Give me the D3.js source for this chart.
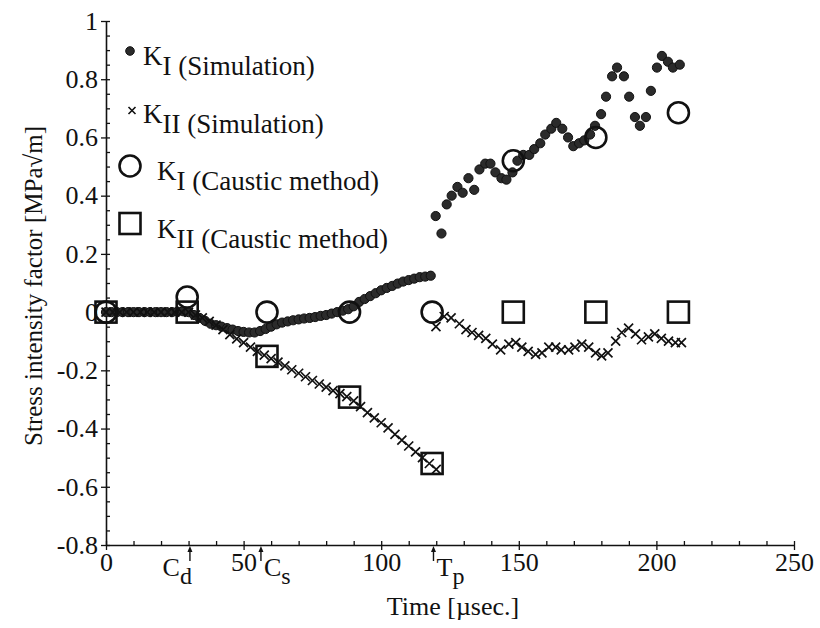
<!DOCTYPE html>
<html lang="en">
<head>
    <meta charset="UTF-8">
    <title>Stress intensity factor</title>
    <style>
        body { margin: 0; background: #fff; }
        text { font-family: "Liberation Serif", "Times New Roman", serif; fill: #111; }
    </style>
</head>
<body>
<script src="https://cdn.jsdelivr.net/npm/d3@7"></script>
<script>
    var width = 820;
    var height = 628;

    // K_I simulation (dense part before crack start, then scattered after)
    var kiSimTime = [0,2,4,6,8,10,12,14,16,18,20,22,24,26,28,30,32,34,36,38,40,42,44,46,48,50,52,54,56,58,
        60,62,64,66,68,70,72,74,76,78,80,82,84,86,88,90,92,94,96,98,100,102,104,106,108,110,112,114,116,118,
        119.8,121.9,123.8,125.6,127.7,129.6,131.7,133.8,135.7,137.8,139.7,141.5,143.7,145.5,147.7,149.5,151.6,
        153.8,155.6,157.8,159.6,161.8,163.6,165.8,167.9,169.8,171.9,173.8,175.9,177.7,179.9,181.7,183.9,185.7,
        188.2,190.1,192.2,194,196.2,198,200.2,202,204.2,206,208.5];
    var kiSimValue = [0,0,0,0,0,0,0,0,0,0,0,0,0,0.002,0.003,0,-0.01,-0.02,-0.03,-0.04,-0.045,-0.05,-0.055,-0.06,-0.065,-0.068,-0.07,-0.07,-0.065,-0.058,
        -0.05,-0.042,-0.036,-0.032,-0.028,-0.025,-0.022,-0.02,-0.017,-0.013,-0.01,-0.005,0,0.005,0.01,0.02,0.035,0.045,0.055,0.065,0.075,0.083,0.09,0.098,0.105,0.11,0.115,0.12,0.122,0.125,
        0.33,0.27,0.37,0.40,0.43,0.41,0.46,0.42,0.49,0.51,0.51,0.48,0.46,0.455,0.48,0.52,0.54,
        0.54,0.56,0.58,0.61,0.63,0.65,0.63,0.60,0.57,0.58,0.59,0.61,0.64,0.68,0.74,0.81,0.84,
        0.81,0.74,0.67,0.64,0.67,0.76,0.84,0.88,0.86,0.84,0.85];

    // K_II simulation
    var kiiSimTime = [0,2.5,5,7.5,10,12.5,15,17.5,20,22.5,25,27.5,30,32.5,35,37.5,40,42.5,45,47.5,50,52.5,55,57.5,
        60,62.5,65,67.5,70,72.5,75,77.5,80,82.5,85,87.5,90,92.5,95,97.5,100,102.5,105,107.5,110,112.5,115,117.5,120,
        119.9,122.9,125.4,128.4,130.8,133,135.4,138,140.4,143.4,146.4,148.9,151.1,153.4,156.1,158.4,160.9,163.4,165.4,
        168.1,170.4,172.9,175.4,177.9,180.1,182.4,185.2,187.4,189.9,192.4,194.6,197.1,199.4,201.8,204.4,206.9,209.1];
    var kiiSimValue = [0,0,0,0,0,0,0,0,0,0,0,0,0,-0.01,-0.02,-0.032,-0.045,-0.06,-0.077,-0.092,-0.105,-0.12,-0.135,-0.148,
        -0.16,-0.172,-0.185,-0.198,-0.21,-0.222,-0.235,-0.247,-0.258,-0.27,-0.28,-0.29,-0.305,-0.325,-0.345,-0.363,-0.38,-0.398,-0.42,-0.44,-0.46,-0.48,-0.5,-0.52,-0.54,
        -0.05,-0.015,-0.02,-0.04,-0.06,-0.07,-0.08,-0.09,-0.11,-0.13,-0.11,-0.105,-0.12,-0.135,-0.145,-0.14,-0.12,-0.12,-0.13,
        -0.13,-0.12,-0.11,-0.12,-0.14,-0.15,-0.14,-0.1,-0.07,-0.055,-0.075,-0.095,-0.085,-0.075,-0.09,-0.1,-0.105,-0.105];

    // caustic method measurements
    var causticTime = [0,29.5,58.5,88.5,118.5,148,178,208];
    var kiCaustic = [0,0.052,0,0,0,0.52,0.6,0.685];
    var kiiCaustic = [0,0,-0.152,-0.292,-0.52,0,0,0];

    // axis ticks
    var xTicks = [0,50,100,150,200,250];
    var yTicks = [-0.8,-0.6,-0.4,-0.2,0,0.2,0.4,0.6,0.8,1];

    // wave arrival markers under the time axis
    var eventTime = [30.5,56.3,119];
    var eventLabel = ["C","C","T"];
    var eventSub = ["d","s","p"];

    var legendLabel = ["K","K","K","K"];
    var legendSub = ["I","II","I","II"];
    var legendText = ["(Simulation)","(Simulation)","(Caustic method)","(Caustic method)"];

    var svg = d3.select('body')
            .append('svg')
            .attr('width', width)
            .attr('height', height);

    var x = d3.scaleLinear().domain([0,250]).range([106,794]);
    var y = d3.scaleLinear().domain([-0.8,1]).range([545,21]);

    // minor ticks (inside)
    svg.append('g')
            .attr('transform','translate(0,545)')
            .call(d3.axisBottom(x).tickValues(d3.range(0,251,10)).tickSize(-4).tickFormat(''))
            .call(function(g){ g.select('.domain').remove(); });
    svg.append('g')
            .attr('transform','translate(106,0)')
            .call(d3.axisLeft(y).tickValues(d3.range(-16,21).map(function(d){ return d/20; })).tickSize(-4).tickFormat(''))
            .call(function(g){ g.select('.domain').remove(); });

    var xAxis = svg.append('g')
            .attr('transform','translate(0,545)')
            .call(d3.axisBottom(x).tickValues(xTicks).tickSize(5).tickSizeOuter(0).tickPadding(3).tickFormat(function(d){ return String(d); }));
    var yAxis = svg.append('g')
            .attr('transform','translate(106,0)')
            .call(d3.axisLeft(y).tickValues(yTicks).tickSize(5).tickSizeOuter(0).tickPadding(3).tickFormat(function(d){ return String(d); }));

    svg.selectAll('.tick line').attr('stroke','#111').attr('stroke-width',1.3);
    svg.selectAll('.domain').attr('stroke','#111').attr('stroke-width',1.6);
    xAxis.selectAll('text').attr('font-size','26px').attr('fill','#111');
    yAxis.selectAll('text').attr('font-size','26px').attr('fill','#111');

    // axis titles
    svg.append('text')
            .attr('x',453).attr('y',615)
            .attr('text-anchor','middle')
            .attr('font-size','26px')
            .text('Time [\u00b5sec.]');
    svg.append('text')
            .attr('transform','translate(42,286) rotate(-90)')
            .attr('text-anchor','middle')
            .attr('font-size','25px')
            .text('Stress intensity factor [MPa\u221am]');

    // arrival arrows
    eventTime.forEach(function(t,i){
        var ex = x(t);
        svg.append('line')
                .attr('x1',ex).attr('x2',ex)
                .attr('y1',550).attr('y2',561)
                .attr('stroke','#111').attr('stroke-width',1.4);
        svg.append('path')
                .attr('d','M'+(ex-2.5)+',552L'+ex+',546L'+(ex+2.5)+',552Z')
                .attr('fill','#111');
        var lab = svg.append('text')
                .attr('x', i===0 ? ex+2 : ex+3)
                .attr('y',576)
                .attr('text-anchor', i===0 ? 'end' : 'start')
                .attr('font-size','26px');
        lab.append('tspan').text(eventLabel[i]);
        lab.append('tspan').attr('dy',8).attr('font-size','24px').text(eventSub[i]);
    });

    // K_I simulation dots
    svg.append('g').selectAll('circle')
            .data(kiSimTime)
            .enter()
            .append('circle')
            .attr('cx',function(d){ return x(d); })
            .attr('cy',function(d,i){ return y(kiSimValue[i]); })
            .attr('r',4.6)
            .attr('fill','#2b2b2b')
            .attr('stroke','#111')
            .attr('stroke-width',1);

    // K_II simulation crosses
    var cross = function(cx,cy,s){
        return 'M'+(cx-s)+','+(cy-s)+'L'+(cx+s)+','+(cy+s)+'M'+(cx-s)+','+(cy+s)+'L'+(cx+s)+','+(cy-s);
    };
    svg.append('g').selectAll('path')
            .data(kiiSimTime)
            .enter()
            .append('path')
            .attr('d',function(d,i){ return cross(x(d),y(kiiSimValue[i]),4.5); })
            .attr('stroke','#111')
            .attr('stroke-width',1.7)
            .attr('fill','none');

    // caustic circles
    svg.append('g').selectAll('circle')
            .data(causticTime)
            .enter()
            .append('circle')
            .attr('cx',function(d){ return x(d); })
            .attr('cy',function(d,i){ return y(kiCaustic[i]); })
            .attr('r',10.5)
            .attr('fill','none')
            .attr('stroke','#111')
            .attr('stroke-width',2.6);

    // caustic squares
    svg.append('g').selectAll('rect')
            .data(causticTime)
            .enter()
            .append('rect')
            .attr('x',function(d){ return x(d)-10.5; })
            .attr('y',function(d,i){ return y(kiiCaustic[i])-10.5; })
            .attr('width',21)
            .attr('height',21)
            .attr('fill','none')
            .attr('stroke','#111')
            .attr('stroke-width',2.6);

    // legend
    var legend = svg.append('g');
    legendLabel.forEach(function(k,i){
        var by = 65 + i*57.5;
        var tx = i<2 ? 143 : 157;
        var my = by - 14;
        if(i===0){
            legend.append('circle').attr('cx',130).attr('cy',my).attr('r',4.3)
                    .attr('fill','#2b2b2b').attr('stroke','#111').attr('stroke-width',1);
        } else if(i===1){
            legend.append('path').attr('d',cross(132,my+2,3.5))
                    .attr('stroke','#111').attr('stroke-width',1.6);
        } else if(i===2){
            legend.append('circle').attr('cx',130).attr('cy',my).attr('r',10.5)
                    .attr('fill','none').attr('stroke','#111').attr('stroke-width',2.6);
        } else {
            legend.append('rect').attr('x',130-10.5).attr('y',my-10.5).attr('width',21).attr('height',21)
                    .attr('fill','none').attr('stroke','#111').attr('stroke-width',2.6);
        }
        var t = legend.append('text')
                .attr('x',tx).attr('y',by)
                .attr('font-size','27px');
        t.append('tspan').text(k);
        t.append('tspan').attr('dy',10).text(legendSub[i] + ' ');
        t.append('tspan').text(legendText[i]);
    });
</script>
</body>
</html>
